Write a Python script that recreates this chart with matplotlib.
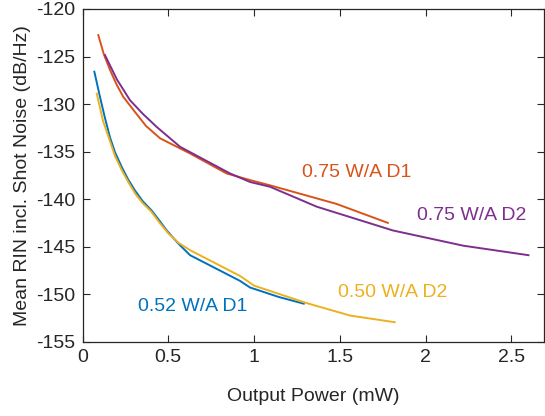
import matplotlib.pyplot as plt

plt.rcParams['font.family'] = ['Liberation Sans', 'DejaVu Sans']
plt.rcParams['axes.unicode_minus'] = False

# 0.75 W/A D1 (laranja)
p_075_d1 = [0.092, 0.125, 0.160, 0.20, 0.238, 0.30, 0.37, 0.452, 0.627, 0.84, 0.977, 1.093, 1.48, 1.78]
rin_075_d1 = [-122.75, -124.8, -126.4, -128.0, -129.25, -130.7, -132.3, -133.6, -135.2, -137.3,
              -138.0, -138.55, -140.5, -142.5]

# 0.75 W/A D2 (roxo)
p_075_d2 = [0.131, 0.20, 0.277, 0.35, 0.432, 0.569, 0.86, 0.977, 1.093, 1.366, 1.81, 2.22, 2.6]
rin_075_d2 = [-124.85, -127.4, -129.6, -131.0, -132.4, -134.5, -137.3, -138.2, -138.7, -140.8,
              -143.3, -144.9, -145.9]

# 0.52 W/A D1 (azul)
p_052_d1 = [0.069, 0.10, 0.13, 0.160, 0.19, 0.228, 0.265, 0.306, 0.35, 0.403, 0.45, 0.491,
            0.56, 0.627, 0.918, 0.977, 1.145, 1.29]
rin_052_d1 = [-126.6, -129.1, -131.4, -133.5, -135.1, -136.6, -137.9, -139.1, -140.2, -141.2,
              -142.3, -143.3, -144.7, -145.9, -148.6, -149.3, -150.3, -151.0]

# 0.50 W/A D2 (amarelo)
p_050_d2 = [0.083, 0.12, 0.160, 0.19, 0.23, 0.27, 0.31, 0.35, 0.40, 0.45, 0.50, 0.56, 0.63,
            0.92, 1.0, 1.3, 1.56, 1.82]
rin_050_d2 = [-128.9, -131.8, -133.9, -135.5, -137.0, -138.3, -139.5, -140.4, -141.3, -142.5,
              -143.6, -144.6, -145.4, -148.1, -149.1, -150.9, -152.25, -152.95]

labels = ['0.75 W/A D1', '0.75 W/A D2', '0.52 W/A D1', '0.50 W/A D2']
colors = ['#D95319', '#7E2F8E', '#0072BD', '#EDB120']
label_pos = [(1.278, -137.25), (1.949, -141.7), (0.325, -151.3), (1.49, -149.85)]

fig = plt.figure(figsize=(5.45, 4.16), dpi=100)
ax = fig.add_axes([0.1514, 0.1786, 0.8466, 0.7998])

series = [(p_075_d1, rin_075_d1), (p_075_d2, rin_075_d2),
          (p_052_d1, rin_052_d1), (p_050_d2, rin_050_d2)]
for (x, y), c in zip(series, colors):
    ax.plot(x, y, color=c, lw=1.4)

for txt, (x, y), c in zip(labels, label_pos, colors):
    ax.text(x, y, txt, color=c, fontsize=14, va='center', ha='left')

ax.set_xlim(0, 2.69)
ax.set_ylim(-155, -120)
ax.set_xticks([0, 0.5, 1, 1.5, 2, 2.5])
ax.set_xticklabels(['0', '0.5', '1', '1.5', '2', '2.5'])
ax.set_yticks(range(-155, -119, 5))
ax.tick_params(direction='in', top=True, right=True, labelsize=14, length=5, width=0.8,
               pad=5, colors='#262626')
for s in ax.spines.values():
    s.set_linewidth(0.9)
    s.set_color('#262626')
ax.set_xlabel('Output Power (mW)', fontsize=14, color='#262626', labelpad=16)
ax.set_ylabel('Mean RIN incl. Shot Noise (dB/Hz)', fontsize=14, color='#262626')

fig.savefig('out.png', dpi=100)
